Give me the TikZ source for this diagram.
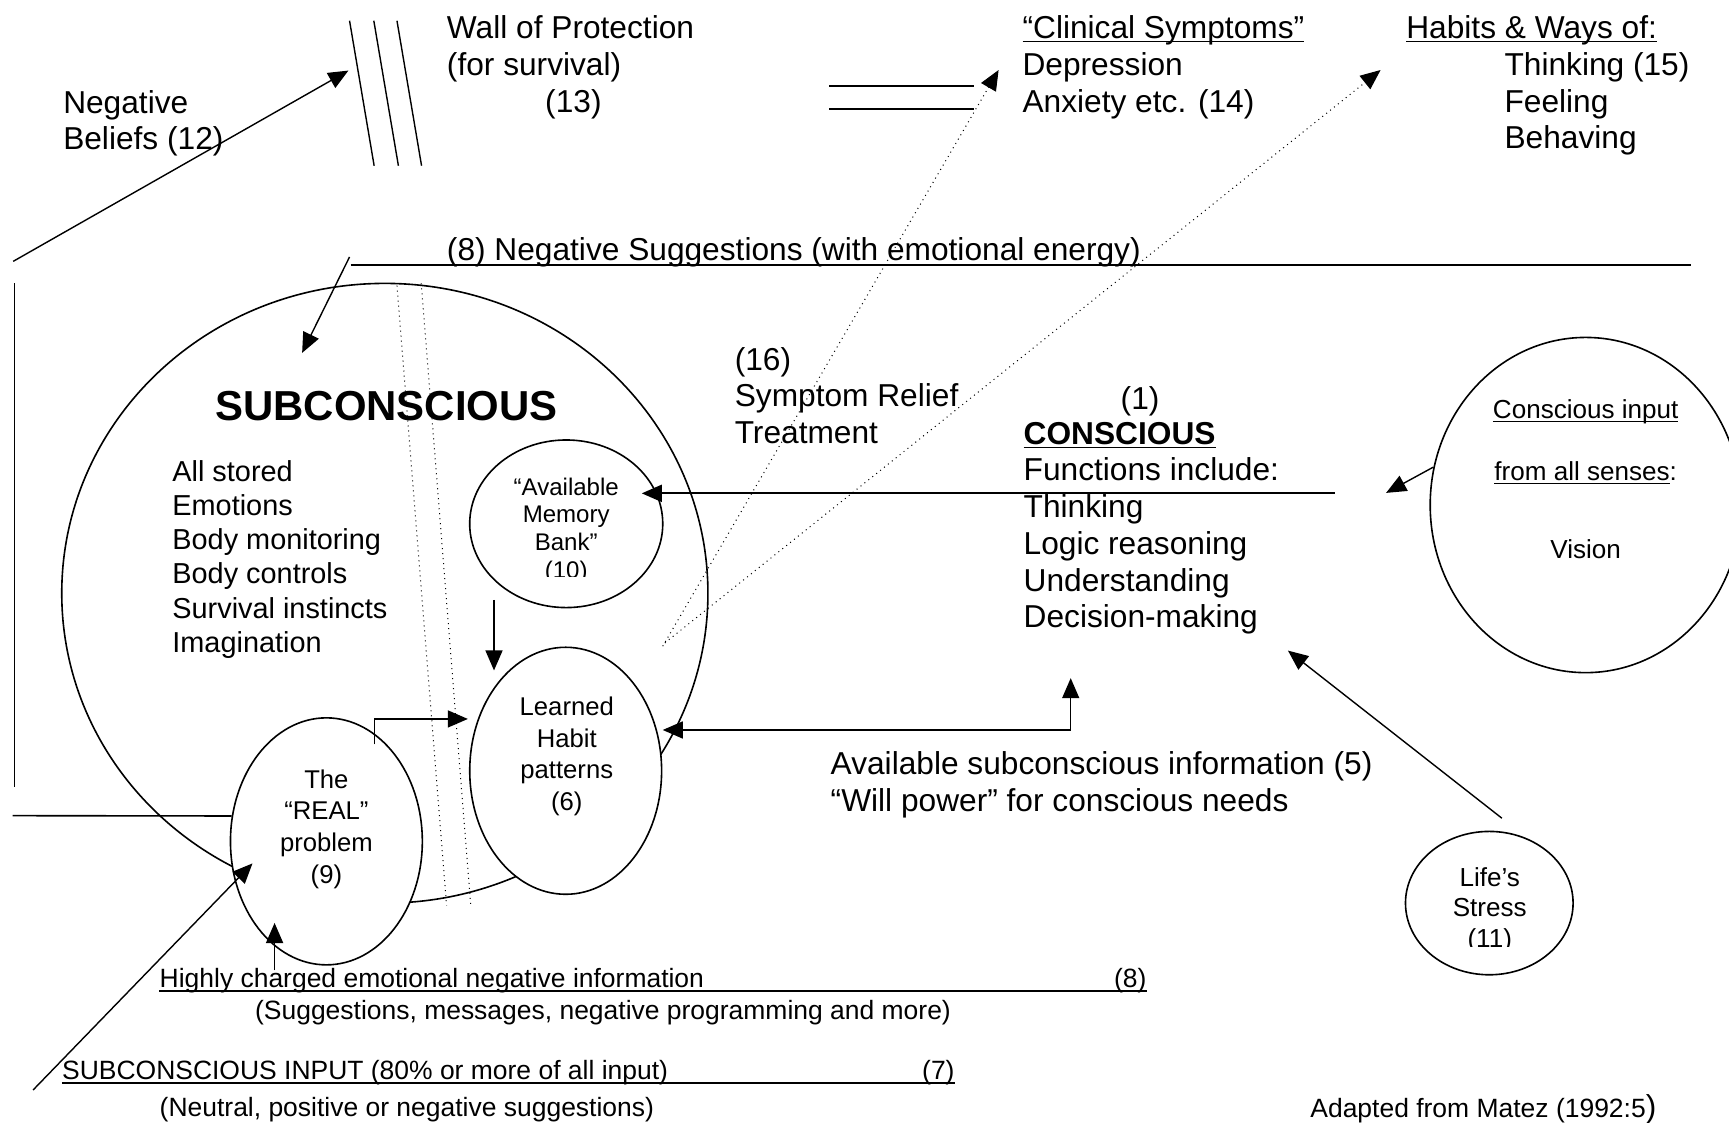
\documentclass[tikz,border=0pt]{standalone}
\usepackage{fontspec}
\setmainfont{Liberation Sans}
\usetikzlibrary{shapes}
\usetikzlibrary{arrows.meta}

% underline at a fixed depth below the baseline
\newcommand{\ulbox}[1]{\underline{\raisebox{0pt}[\height][0pt]{#1}}}

\tikzset{
  every node/.style={inner sep=0pt},
  bigtxt/.style={font=\fontsize{15.8}{18.3}\selectfont, align=left, anchor=north west},
  listtxt/.style={font=\fontsize{14.4}{17}\selectfont, align=left, anchor=north west},
  lowtxt/.style={font=\fontsize{13.2}{15}\selectfont, anchor=base west},
  bubtxt/.style={font=\fontsize{12.8}{15.8}\selectfont, align=center, anchor=north},
  bubble/.style={draw, ellipse, line width=0.8pt, fill=white},
  arr/.style={-{Triangle[length=10pt,width=8.5pt]}, line width=0.7pt},
  arrboth/.style={{Triangle[length=10pt,width=8.5pt]}-{Triangle[length=10pt,width=8.5pt]}, line width=0.7pt},
  dots/.style={dotted, line width=0.5pt}
}

\begin{document}
\begin{tikzpicture}[x=0.55pt, y=-0.55pt]
\useasboundingbox (0,0) rectangle (1568,1018);

% top row
\node[bigtxt] (beliefs) at (57,81.3) {Negative\\Beliefs (12)};
\node[bigtxt] (wall) at (405,14) {Wall of Protection\\(for survival)\\\hspace*{49pt}(13)};
\node[bigtxt] (clinical) at (927,14) {\ulbox{“Clinical Symptoms”}\\Depression\\Anxiety etc. (14)};
\node[bigtxt] (habits) at (1275,14) {\ulbox{Habits \& Ways of:}\\\hspace*{49pt}Thinking (15)\\\hspace*{49pt}Feeling\\\hspace*{49pt}Behaving};

\foreach \dx in {0,22,43}
  \draw[line width=0.7pt] (317+\dx,18.8) -- (339.3+\dx,150.3);
\foreach \y in {78,99}
  \draw[line width=0.9pt] (752,\y) -- (883,\y);

\coordinate (belA) at (12,237);
\coordinate (belB) at (316,64);
\draw[arr] (belA) -- (belB);

% negative suggestions
\node[bigtxt] (negsugg) at (405,214.7) {(8) Negative Suggestions (with emotional energy)};
\coordinate (negL) at (318,240);
\coordinate (negR) at (1533.6,240);
\draw[line width=1pt] (negL) -- (negR);
\coordinate (sugA) at (317,233);
\coordinate (sugB) at (274,320);
\draw[arr] (sugA) -- (sugB);

% left frame lines
\draw[line width=0.8pt] (13,257) -- (13,714);

% subconscious
\node[draw, ellipse, line width=0.8pt, minimum width=322.3pt, minimum height=309.1pt] (subc) at (349,538) {};
\node[font=\fontsize{20.9}{24}\selectfont\bfseries, anchor=west] (subctitle) at (195,368) {SUBCONSCIOUS};
\node[listtxt] (stored) at (156,417.5) {All stored\\Emotions\\Body monitoring\\Body controls\\Survival instincts\\Imagination};
\draw[dots] (360,259) -- (405,821);
\draw[dots] (382,257) -- (427,822);

\node[bubble, minimum width=96.3pt, minimum height=83.6pt] (memory) at (513.5,475) {};
\begin{scope}
  \clip (420,420) rectangle (610,523);
  \node[bubtxt, font=\fontsize{12}{13.75}\selectfont] (memorytxt) at (513.5,433) {“Available\\Memory\\Bank”\\(10)};
\end{scope}

\node[bubble, minimum width=95.7pt, minimum height=123.2pt] (habit) at (513,699) {};
\node[bubtxt] (habittxt) at (514,631.5) {Learned\\Habit\\patterns\\(6)};

\node[bubble, minimum width=95.7pt, minimum height=123.2pt] (real) at (296,763) {};
\node[bubtxt] (realtxt) at (296,697.5) {The\\“REAL”\\problem\\(9)};

\draw[line width=0.8pt] (11.4,739.7) -- (real.165);

\coordinate (memA) at (448,544);
\coordinate (memD) at (448,608);
\draw[arr] (memA) -- (memD);
\coordinate (realN) at (339.5,675);
\coordinate (habL) at (424.3,652);
\draw[arr] (realN) |- (habL);
\coordinate (habR) at (601,662);
\coordinate (conS) at (971,615);
\draw[arrboth] (habR) -| (conS);

% dotted relief arrows
\node[bigtxt] (relief) at (666,314.5) {(16)\\Symptom Relief\\Treatment};
\coordinate (dotA) at (601,586);
\coordinate (dotB) at (603,583);
\coordinate (clinT) at (905.6,63.5);
\coordinate (habT) at (1252,63.5);
\draw[dots, arr, line width=0.5pt] (dotA) -- (clinT);
\draw[dots, arr, line width=0.5pt] (dotB) -- (habT);

% conscious
\node[bigtxt] (one) at (1016,350) {(1)};
\node[bigtxt] (conscious) at (928,382.5) {\ulbox{\textbf{CONSCIOUS}}\\Functions include:\\Thinking\\Logic reasoning\\Understanding\\Decision-making};
\coordinate (conL) at (1210.6,447.4);
\coordinate (memR) at (582,447.4);
\draw[arr, line width=0.9pt] (conL) -- (memR);
\node[bigtxt] (willpower) at (753,681.5) {Available subconscious information (5)\\“Will power” for conscious needs};

% senses
\node[draw, ellipse, line width=0.8pt, minimum width=155.1pt, minimum height=167.2pt] (vision) at (1438,458) {};
\node[font=\fontsize{13}{30.8}\selectfont, align=center, anchor=north] (visiontxt) at (1438,362) {\ulbox{Conscious input}\\\ulbox{from all senses}:\\[8.25pt]Vision};
\coordinate (visT) at (1257,447);
\draw[arr] (vision.166) -- (visT);

% stress
\node[draw, ellipse, line width=0.8pt, minimum width=83.6pt, minimum height=71.5pt] (stress) at (1350.6,819) {};
\begin{scope}
  \clip (1280,770) rectangle (1420,858);
  \node[bubtxt, font=\fontsize{13}{15.4}\selectfont] (stresstxt) at (1351,786) {Life’s\\Stress\\(11)};
\end{scope}
\coordinate (strA) at (1362,742);
\coordinate (strT) at (1168,590);
\draw[arr] (strA) -- (strT);

% subconscious input
\node[lowtxt] (highly) at (144.5,895.4) {Highly charged emotional negative information};
\node[lowtxt, anchor=base east] (highlyno) at (1040,895.4) {(8)};
\draw[line width=0.9pt] ([yshift=-1.65pt]highly.base west) -- ([yshift=-1.65pt]highlyno.base east);
\node[lowtxt] (suggest) at (231,925) {(Suggestions, messages, negative programming and more)};
\node[lowtxt] (subinput) at (56,979.4) {SUBCONSCIOUS INPUT (80\% or more of all input)};
\node[lowtxt, anchor=base east] (subinputno) at (866,979.4) {(7)};
\draw[line width=0.9pt] ([yshift=-1.65pt]subinput.base west) -- ([yshift=-1.65pt]subinputno.base east);
\node[lowtxt] (neutral) at (144.5,1012.7) {(Neutral, positive or negative suggestions)};
\node[lowtxt] (adapted) at (1188,1013) {Adapted from Matez (1992:5{\fontsize{15.8}{18}\selectfont)}};

\coordinate (hiA) at (249,880);
\coordinate (hiT) at (249,837);
\draw[arr] (hiA) -- (hiT);
\coordinate (botA) at (30,988.5);
\coordinate (botT) at (229,783);
\draw[arr] (botA) -- (botT);
\end{tikzpicture}
\end{document}
